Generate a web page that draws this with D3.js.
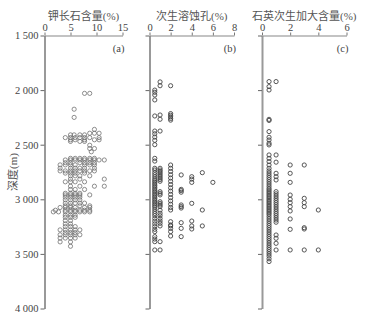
<!DOCTYPE html>
<html>
<head>
<meta charset="utf-8">
<script src="https://cdn.jsdelivr.net/npm/d3@7"></script>
<style>
    body { margin: 0; background: #fff; }
    svg { display: block; }
</style>
</head>
<body>
<svg id="chart" width="370" height="316"></svg>
<script>
const depthTicks = [1500, 2000, 2500, 3000, 3500, 4000];
const feldsparTicks = [0, 5, 10, 15];
const poreTicks = [0, 2, 4, 6, 8];
const quartzTicks = [0, 2, 4, 6];
const panelTitles = ["钾长石含量(%)", "次生溶蚀孔(%)", "石英次生加大含量(%)"];
const panelLetters = ["(a)", "(b)", "(c)"];
const depthLabel = "深度(m)";

// feldspar: [depth, values read at that depth]
const feldsparRows = [
    [2030, [7.7, 8.7]],
    [2175, [5.7]],
    [2250, [5.7]],
    [2360, [9.6]],
    [2395, [8.7, 9.6, 10.5]],
    [2410, [5.0, 5.7, 6.8, 7.7]],
    [2435, [4.0, 5.0, 5.9, 6.8, 7.7, 8.7, 10.5]],
    [2455, [5.0, 5.9, 7.7, 9.6, 10.5]],
    [2470, [5.0, 6.8, 7.7]],
    [2505, [8.7]],
    [2535, [8.7, 9.6]],
    [2565, [9.0]],
    [2625, [5.0, 5.9, 6.8, 7.7, 8.7, 9.6]],
    [2640, [4.0, 5.0, 5.9, 6.8, 7.7, 8.7, 9.6, 10.5, 11.5]],
    [2665, [4.0, 5.0, 6.8, 7.7, 8.7, 9.6]],
    [2685, [3.0, 4.0, 5.0, 5.9, 7.7, 8.7, 9.6]],
    [2715, [3.0, 5.0, 5.9, 6.8, 7.7, 9.6]],
    [2740, [3.0, 4.0, 5.0, 5.9, 6.8, 7.7, 8.7, 9.6]],
    [2760, [4.0, 5.0, 5.9, 7.7]],
    [2785, [5.0, 5.9, 6.8, 8.7]],
    [2815, [5.0, 6.8, 11.5]],
    [2840, [4.0, 5.0, 5.9, 7.7]],
    [2880, [5.0, 6.8, 9.6, 11.5]],
    [2910, [5.0, 5.9, 7.7]],
    [2945, [4.0, 5.0, 5.9, 6.8]],
    [2960, [4.0, 5.0, 5.9, 6.8, 8.7]],
    [2980, [4.0, 5.0, 5.9, 6.8]],
    [3005, [4.0, 5.0, 5.9, 6.8]],
    [3035, [4.0, 5.0, 5.9, 6.8, 7.7]],
    [3060, [4.0, 5.0, 6.8, 8.7]],
    [3075, [3.0, 4.0, 5.0, 5.9, 7.7, 8.7]],
    [3100, [2.1, 4.0, 5.0, 5.9, 6.8, 7.7, 8.7]],
    [3115, [1.7, 2.7, 4.0, 5.0, 5.9, 6.8, 7.7, 8.7]],
    [3145, [4.0, 5.0, 5.9]],
    [3165, [4.0, 5.0, 5.9]],
    [3195, [4.0, 5.0]],
    [3225, [4.0, 5.0]],
    [3250, [4.0, 5.0, 5.9]],
    [3280, [3.0, 4.0, 5.0, 5.9, 6.8]],
    [3305, [4.0, 5.0, 5.9]],
    [3325, [3.0, 4.0, 5.0, 5.9, 6.8]],
    [3355, [3.0, 4.0, 5.0, 5.9]],
    [3390, [3.0, 5.0]],
    [3430, [5.0]],
];

// secondary dissolution pores: [value, depths]
const poreColumns = [
    [0.5, [2000, 2020, 2045, 2090, 2237, 2375, 2400, 2430, 2460, 2500, 2625, 2650, 2716,
        2732, 2755, 2775, 2795, 2815, 2830, 2845, 2860, 2875, 2890, 2905, 2920, 2935,
        2950, 2965, 2980, 2995, 3010, 3025, 3040, 3055, 3070, 3090, 3110, 3130, 3150,
        3175, 3200, 3225, 3250, 3275, 3296, 3342, 3364, 3388, 3464]],
    [1, [1925, 1960, 2228, 2267, 2375, 2716, 2732, 2745, 2760, 2775, 2790, 2805, 2820,
        2835, 2930, 2945, 2960, 3022, 3037, 3052, 3067, 3100, 3128, 3150, 3175, 3199,
        3220, 3244, 3388, 3464]],
    [2, [1960, 2215, 2230, 2245, 2260, 2275, 2686, 2716, 2745, 2775, 2805, 2835, 2865,
        2895, 2925, 2955, 2985, 3015, 3045, 3075, 3098, 3205, 3235, 3244, 3266, 3296, 3336]],
    [3, [2777, 2909, 2920, 2935, 3052, 3067, 3080, 3214, 3266, 3342]],
    [4, [2793, 2815, 2845, 3037, 3199, 3244, 3272]],
    [5, [2756, 3098, 3244]],
    [6, [2845]],
];

// quartz overgrowth: [value, depths]
const quartzColumns = [
    [0.5, [1922, 1968, 1999, 2268, 2278, 2380, 2432, 2457, 2487, 2502, 2594, 2625, 2655,
        2686, 2716, 2740, 2760, 2780, 2800, 2820, 2840, 2860, 2880, 2900, 2915, 2930,
        2945, 2960, 2975, 2990, 3005, 3020, 3035, 3050, 3065, 3080, 3095, 3110, 3125,
        3140, 3160, 3180, 3200, 3220, 3240, 3260, 3280, 3300, 3320, 3340, 3360, 3380,
        3400, 3420, 3440, 3460, 3480, 3500, 3520, 3545, 3570]],
    [1, [1922, 2594, 2660, 2762, 2793, 2823, 2930, 2950, 2970, 2990, 3010, 3030, 3050,
        3070, 3090, 3110, 3130, 3150, 3170, 3190, 3210, 3327, 3357, 3403, 3464]],
    [2, [2686, 2762, 2845, 2961, 3000, 3031, 3067, 3107, 3180, 3275, 3464]],
    [3, [2686, 2991, 3031, 3067, 3260, 3272, 3464]],
    [4, [3098, 3464]],
];

const fromRows = (rows) =>
    rows.flatMap(([d, vals]) => vals.map((v) => ({ v: v, d: d })));
const fromColumns = (cols) =>
    cols.flatMap(([v, depths]) => depths.map((d) => ({ v: v, d: d })));

const panels = [
    { ticks: feldsparTicks, domain: [0, 15], range: [44.5, 122.5], points: fromRows(feldsparRows), stroke: "#6a6a6a", width: 0.75 },
    { ticks: poreTicks, domain: [0, 8], range: [149.5, 234], points: fromColumns(poreColumns), stroke: "#444", width: 0.9 },
    { ticks: quartzTicks, domain: [0, 6], range: [262, 346.5], points: fromColumns(quartzColumns), stroke: "#444", width: 0.9 },
];

const svg = d3.select("#chart");
const y = d3.scaleLinear().domain([1500, 4000]).range([35.5, 308.5]);
const spaced = d3.formatLocale({ decimal: ".", thousands: " ", grouping: [3], currency: ["", ""] }).format(",");
const numFont = "'Liberation Serif', 'Noto Sans CJK SC', serif";

panels.forEach((p, i) => {
    const x = d3.scaleLinear().domain(p.domain).range(p.range);
    const g = svg.append("g");

    // depth axis
    const yAxis = g.append("g")
        .attr("transform", `translate(${p.range[0]},0)`)
        .call(
            d3.axisLeft(y)
                .tickValues(depthTicks)
                .tickSize(4)
                .tickSizeOuter(0)
                .tickPadding(2)
                .tickFormat(i === 0 ? spaced : "")
        );
    yAxis.select(".domain").attr("stroke", "#999").attr("stroke-width", 2);
    yAxis.selectAll(".tick line").attr("stroke", "#666");
    yAxis.selectAll(".tick text")
        .attr("fill", "#444")
        .style("font-family", numFont)
        .style("font-size", "10.5px");

    // value axis on top
    const xAxis = g.append("g")
        .attr("transform", `translate(0,${y(1500)})`)
        .call(
            d3.axisTop(x)
                .tickValues(p.ticks)
                .tickSize(3)
                .tickSizeOuter(0)
                .tickPadding(2)
                .tickFormat(d3.format("d"))
        );
    xAxis.select(".domain").attr("stroke", "#888").attr("stroke-width", 1.2);
    xAxis.selectAll(".tick line").attr("stroke", "#777");
    xAxis.selectAll(".tick text")
        .attr("fill", "#444")
        .style("font-family", numFont)
        .style("font-size", "10.5px");

    g.append("text")
        .attr("x", (p.range[0] + p.range[1]) / 2)
        .attr("y", 20)
        .attr("text-anchor", "middle")
        .attr("fill", "#555")
        .style("font-family", numFont)
        .style("font-size", "11px")
        .text(panelTitles[i]);

    g.append("text")
        .attr("x", p.range[1] + 2)
        .attr("y", 52)
        .attr("text-anchor", "end")
        .attr("fill", "#444")
        .style("font-family", numFont)
        .style("font-size", "10.5px")
        .text(panelLetters[i]);

    g.append("g")
        .selectAll("circle")
        .data(p.points)
        .enter()
        .append("circle")
        .attr("cx", (d) => x(d.v))
        .attr("cy", (d) => y(d.d))
        .attr("r", 2.1)
        .attr("fill", "none")
        .attr("stroke", p.stroke)
        .attr("stroke-width", p.width);
});

svg.append("text")
    .attr("transform", `translate(13,${y(2750)}) rotate(-90)`)
    .attr("text-anchor", "middle")
    .attr("dy", "0.35em")
    .attr("fill", "#555")
    .style("font-family", numFont)
    .style("font-size", "11px")
    .text(depthLabel);
</script>
</body>
</html>
